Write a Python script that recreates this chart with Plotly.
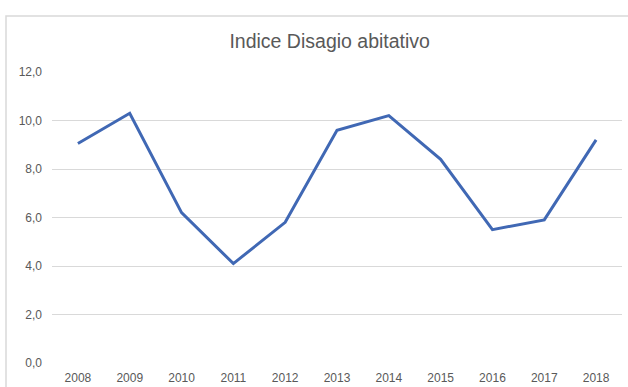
import plotly.graph_objects as go

# Annual housing-hardship index, 2008-2018
years = ["2008", "2009", "2010", "2011", "2012", "2013",
         "2014", "2015", "2016", "2017", "2018"]
indice = [9.05, 10.3, 6.2, 4.1, 5.8, 9.6, 10.2, 8.4, 5.5, 5.9, 9.2]
y_ticks = [0, 2, 4, 6, 8, 10, 12]

TEXT = "#595959"
GRID = "#D9D9D9"
LINE = "#4068B4"

fig = go.Figure(
    go.Scatter(
        x=years,
        y=indice,
        mode="lines",
        line=dict(color=LINE, width=3),
        hoverinfo="x+y",
    )
)

fig.update_layout(
    width=628,
    height=387,
    margin=dict(l=52, r=6, t=72, b=24),
    paper_bgcolor="white",
    plot_bgcolor="white",
    separators=",.",
    showlegend=False,
    font=dict(family="Liberation Sans, Arial, sans-serif", color=TEXT, size=12),
    title=dict(
        text="Indice Disagio abitativo",
        x=0.525,
        xanchor="center",
        y=1 - 41 / 387,
        yanchor="middle",
        font=dict(size=19.5, color=TEXT),
    ),
    xaxis=dict(
        type="category",
        range=[-0.5, len(years) - 0.5],
        automargin=False,
        showgrid=False,
        showline=False,
        zeroline=False,
        ticks="",
        ticklabelstandoff=6,
        tickfont=dict(size=12, color=TEXT),
    ),
    yaxis=dict(
        range=[0, 12],
        tickvals=y_ticks,
        tickformat=".1f",
        automargin=False,
        showgrid=True,
        gridcolor=GRID,
        gridwidth=1,
        zeroline=False,
        showline=False,
        ticks="",
        ticklabelstandoff=9,
        tickfont=dict(size=12, color=TEXT),
    ),
    # light frame around the chart area (left and top edges visible)
    shapes=[
        dict(
            type="rect",
            xref="paper",
            yref="paper",
            x0=(6 - 52) / 570,
            x1=1.2,
            y0=-0.2,
            y1=(363 - 16) / 291,
            line=dict(color=GRID, width=1.5),
            fillcolor="rgba(0,0,0,0)",
            layer="below",
        )
    ],
)

fig.write_html("out.html")
